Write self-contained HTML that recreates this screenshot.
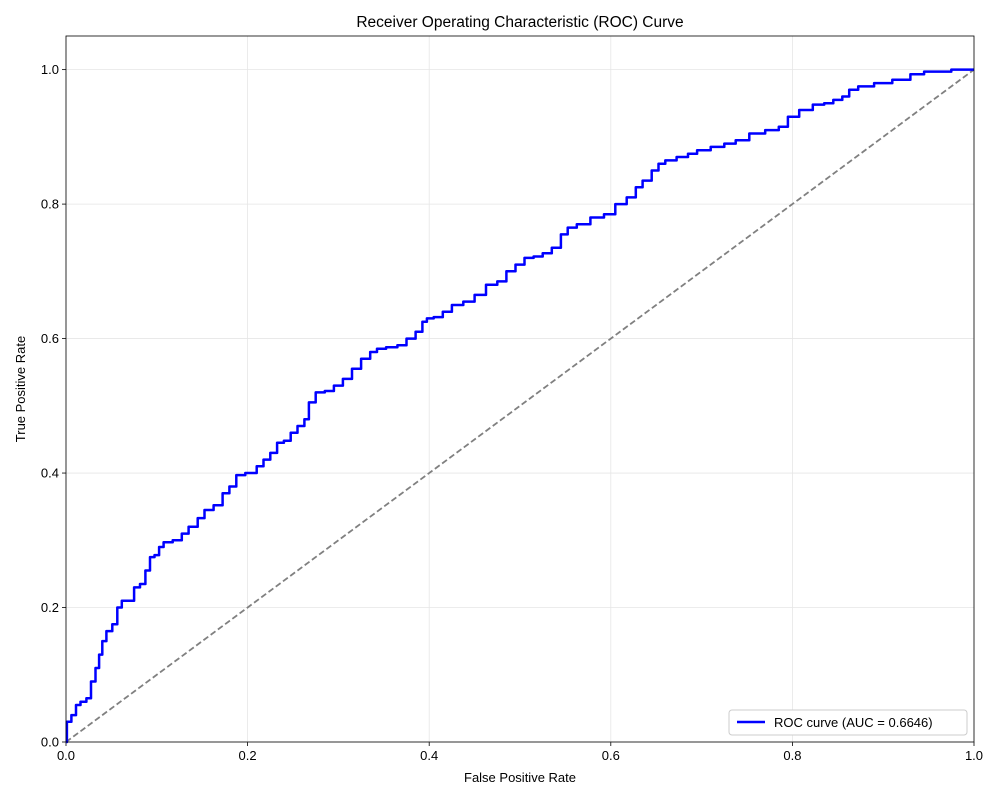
<!DOCTYPE html>
<html><head><meta charset="utf-8"><style>
body{margin:0;background:#fff;font-family:"Liberation Sans","DejaVu Sans",sans-serif}
svg text{font-family:"Liberation Sans","DejaVu Sans",sans-serif}
</style></head><body>
<svg id="chart" width="1000" height="800" viewBox="0 0 1000 800" xmlns="http://www.w3.org/2000/svg"></svg>
<script>
const fpr=[0,0.002,0.01,0.012,0.02,0.025,0.03,0.035,0.038,0.042,0.047,0.055,0.058,0.065,0.072,0.078,0.085,0.09,0.095,0.1,0.105,0.11,0.125,0.13,0.14,0.15,0.155,0.17,0.175,0.185,0.19,0.205,0.215,0.22,0.23,0.235,0.245,0.25,0.26,0.265,0.27,0.28,0.29,0.3,0.31,0.32,0.33,0.34,0.345,0.36,0.37,0.38,0.39,0.395,0.4,0.41,0.42,0.43,0.445,0.455,0.47,0.48,0.49,0.5,0.51,0.52,0.53,0.54,0.55,0.555,0.57,0.585,0.6,0.61,0.625,0.63,0.64,0.65,0.655,0.665,0.68,0.69,0.7,0.72,0.73,0.745,0.76,0.78,0.79,0.8,0.815,0.83,0.84,0.85,0.86,0.865,0.88,0.9,0.92,0.94,0.95,1];
const tpr=[0,0.03,0.04,0.055,0.06,0.065,0.09,0.11,0.13,0.15,0.165,0.175,0.2,0.21,0.21,0.23,0.235,0.255,0.275,0.278,0.29,0.297,0.3,0.31,0.32,0.333,0.345,0.352,0.37,0.38,0.397,0.4,0.41,0.42,0.43,0.445,0.448,0.46,0.47,0.48,0.505,0.52,0.522,0.53,0.54,0.555,0.57,0.58,0.585,0.587,0.59,0.6,0.61,0.625,0.63,0.632,0.64,0.65,0.655,0.665,0.68,0.685,0.7,0.71,0.72,0.722,0.727,0.735,0.755,0.765,0.77,0.78,0.785,0.8,0.81,0.825,0.835,0.85,0.86,0.865,0.87,0.875,0.88,0.885,0.89,0.895,0.905,0.91,0.915,0.93,0.94,0.948,0.95,0.955,0.96,0.97,0.975,0.98,0.985,0.993,0.997,1];
const xTicks=[0,0.2,0.4,0.6,0.8,1.0];
const yTicks=[0,0.2,0.4,0.6,0.8,1.0];
const X0=66,X1=974,Y0=742,Y1=36;
const sx=v=>X0+v*(X1-X0);
const sy=v=>Y0-v/1.05*(Y0-Y1);
const svg=document.getElementById('chart');
const NS='http://www.w3.org/2000/svg';
function mk(tag,attrs,name,txt){const e=document.createElementNS(NS,tag);for(const k in attrs)e.setAttribute(k,attrs[k]);


if(txt!==undefined)e.textContent=txt;svg.appendChild(e);return e;}
xTicks.forEach(t=>{mk('line',{x1:sx(t),x2:sx(t),y1:Y1,y2:Y0,stroke:'#e6e6e6','stroke-width':0.8},'x-grid-line');
mk('line',{x1:sx(t),x2:sx(t),y1:Y0,y2:Y0+4,stroke:'#000','stroke-width':0.8},'x-tick');
mk('text',{x:sx(t),y:Y0+18,'font-size':13,'text-anchor':'middle'},'x-tick-label',t.toFixed(1));});
yTicks.forEach(t=>{mk('line',{x1:X0,x2:X1,y1:sy(t),y2:sy(t),stroke:'#e6e6e6','stroke-width':0.8},'y-grid-line');
mk('line',{x1:X0-4,x2:X0,y1:sy(t),y2:sy(t),stroke:'#000','stroke-width':0.8},'y-tick');
mk('text',{x:X0-7,y:sy(t)+4.5,'font-size':13,'text-anchor':'end'},'y-tick-label',t.toFixed(1));});
mk('line',{x1:sx(0),y1:sy(0),x2:sx(1),y2:sy(1),stroke:'#808080','stroke-width':1.8,'stroke-dasharray':'6,3'},'random-baseline');
let d='M'+sx(fpr[0]).toFixed(1)+','+sy(tpr[0]).toFixed(1);
for(let i=1;i<fpr.length;i++){
  const xm=(fpr[i-1]+fpr[i])/2;
  d+='L'+sx(xm).toFixed(1)+','+sy(tpr[i-1]).toFixed(1)+'L'+sx(xm).toFixed(1)+','+sy(tpr[i]).toFixed(1)+'L'+sx(fpr[i]).toFixed(1)+','+sy(tpr[i]).toFixed(1);
}
mk('path',{d:d,fill:'none',stroke:'#0000ff','stroke-width':2.5,'stroke-linejoin':'round'},'roc-curve');
mk('rect',{x:X0,y:Y1,width:X1-X0,height:Y0-Y1,fill:'none',stroke:'#000','stroke-width':0.8},'plot-frame');
mk('text',{x:520,y:27,'font-size':15.5,'text-anchor':'middle'},'chart-title','Receiver Operating Characteristic (ROC) Curve');
mk('text',{x:520,y:782,'font-size':13,'text-anchor':'middle'},'x-axis-title','False Positive Rate');
mk('text',{x:25,y:389,'font-size':13,'text-anchor':'middle',transform:'rotate(-90 25 389)'},'y-axis-title','True Positive Rate');
mk('rect',{x:729,y:710,width:238,height:25,rx:3,fill:'#fff',stroke:'#ccc','stroke-width':1},'legend-box');
mk('line',{x1:737,x2:765,y1:722,y2:722,stroke:'#0000ff','stroke-width':2.5},'legend-line');
mk('text',{x:774,y:727,'font-size':13},'legend-label','ROC curve (AUC = 0.6646)');
</script>
</body></html>
